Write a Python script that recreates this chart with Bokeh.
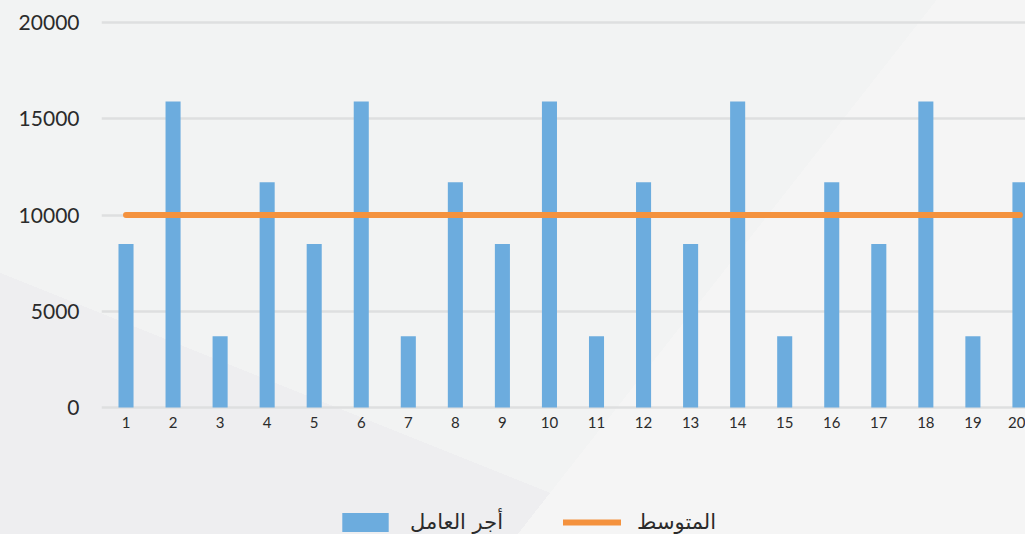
from bokeh.plotting import figure
from bokeh.models import Range1d, FixedTicker, Legend, LegendItem
from bokeh.embed import file_html
from bokeh.resources import INLINE

categories = [str(i) for i in range(1, 21)]
wages = [8500, 15900, 3700, 11700, 8500, 15900, 3700, 11700, 8500, 15900,
         3700, 11700, 8500, 15900, 3700, 11700, 8500, 15900, 3700, 11700]
average = [10000] * 20
y_ticks = [0, 5000, 10000, 15000, 20000]
series_names = ["أجر العامل", "المتوسط"]

xs = list(range(1, len(categories) + 1))
BG = "#f2f3f3"

p = figure(width=1025, height=534, output_backend="svg", toolbar_location=None,
           x_range=Range1d(0.479, 20.118), y_range=Range1d(-6597, 20312),
           min_border_left=101, min_border_right=0, min_border_top=16, min_border_bottom=0)
p.background_fill_alpha = 0
p.border_fill_alpha = 0
p.outline_line_color = None
# decorative diagonal shading of the page background
p.styles = {"background": (
    "linear-gradient(128.1deg, rgba(245,245,245,0) 737px, #f5f5f5 737px), "
    "linear-gradient(201.8deg, rgba(238,238,240,0) 634px, #eeeef0 634px), "
    + BG)}

bars = p.vbar(x=xs, top=wages, width=0.32, bottom=0, fill_color="#6cacde", line_color=None)
line = p.line(x=xs, y=average, line_color="#f4923e", line_width=6, line_cap="round")

p.xaxis.ticker = FixedTicker(ticks=xs)
p.xaxis.major_label_overrides = {x: c for x, c in zip(xs, categories)}
p.xaxis.fixed_location = 0
p.yaxis.ticker = FixedTicker(ticks=y_ticks)
for ax in (p.xaxis[0], p.yaxis[0]):
    ax.axis_line_color = None
    ax.major_tick_line_color = None
    ax.minor_tick_line_color = None
    ax.major_tick_out = 0
    ax.major_label_text_color = "#2b2b2b"
    ax.major_label_text_font = "Lato"
p.xaxis.major_label_text_font_size = "15px"
p.xaxis.major_label_standoff = 9
p.yaxis.major_label_text_font_size = "21px"
p.yaxis.major_label_standoff = 22

p.xgrid.grid_line_color = None
p.ygrid.grid_line_color = "#dedfe0"
p.ygrid.grid_line_width = 2.5

legend = Legend(items=[LegendItem(label=series_names[0], renderers=[bars]),
                       LegendItem(label=series_names[1], renderers=[line])],
                orientation="horizontal", location=(235, 0),
                glyph_width=58, glyph_height=24, spacing=60, label_standoff=16,
                label_text_font="DejaVu Sans", label_text_font_size="21px",
                label_text_color="#2b2b2b", background_fill_alpha=0,
                border_line_color=None, padding=0, margin=0)
p.add_layout(legend, "center")

open("out.html", "w").write(file_html(p, INLINE))
